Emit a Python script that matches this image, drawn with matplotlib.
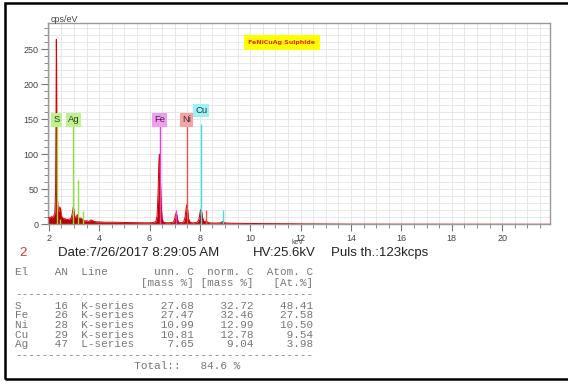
import matplotlib.pyplot as plt
from matplotlib.patches import Rectangle
from matplotlib.ticker import MultipleLocator

# EDX spectrum (energy in keV, intensity in cps/eV)
energy_kev = [1.97, 2.00, 2.05, 2.10, 2.15, 2.20, 2.24, 2.27, 2.29, 2.30, 2.31, 2.32,
              2.34, 2.37, 2.40, 2.44, 2.47, 2.50, 2.55, 2.60, 2.65, 2.70, 2.75, 2.80,
              2.85, 2.90, 2.94, 2.97, 2.99, 3.01, 3.04, 3.08, 3.12, 3.15, 3.18, 3.22,
              3.26, 3.30, 3.35, 3.40, 3.50, 3.60, 3.65, 3.70, 3.75, 3.80, 3.90, 4.00,
              4.20, 4.40, 4.60, 4.80, 5.00, 5.20, 5.40, 5.60, 5.80, 6.00, 6.15, 6.25,
              6.30, 6.34, 6.37, 6.39, 6.40, 6.41, 6.43, 6.46, 6.50, 6.55, 6.65, 6.80,
              6.95, 7.00, 7.03, 7.06, 7.09, 7.12, 7.17, 7.25, 7.35, 7.41, 7.45, 7.48,
              7.51, 7.55, 7.62, 7.75, 7.90, 7.97, 8.01, 8.04, 8.07, 8.11, 8.16, 8.22,
              8.26, 8.30, 8.40, 8.60, 8.80, 8.86, 8.90, 8.94, 9.00, 9.20, 9.50, 10.0,
              10.5, 11.0, 11.5, 12.0, 12.5, 13.0, 13.5, 14.0, 21.9]
cps = [9, 10, 9, 11, 10, 12, 16, 45, 170, 264, 230, 120,
       40, 20, 18, 25, 22, 12, 9, 8, 8, 7, 7, 7,
       8, 10, 17, 24, 22, 15, 10, 10, 13, 14, 10, 8,
       9, 8, 7, 5, 5, 4, 6, 6, 5, 4, 3.5, 3.5,
       3, 3, 3, 2.8, 2.6, 2.5, 2.4, 2.3, 2.2, 2.2, 2.5, 4,
       12, 45, 88, 100, 99, 95, 70, 30, 8, 3, 2.2, 2.2,
       3, 8, 14, 16, 13, 6, 2.5, 2.2, 3, 10, 22, 28,
       22, 8, 2.5, 2, 3, 8, 18, 21, 18, 9, 4, 4,
       5, 3, 2, 1.8, 2, 3, 4, 3, 2, 1.6, 1.4, 1.2,
       1.0, 0.9, 0.8, 0.6, 0.5, 0.4, 0.3, 0.2, 0]

# element line markers
line_kev = [2.31, 2.46, 2.98, 3.15, 3.35, 6.40, 7.06, 7.48, 8.26, 8.05, 8.90]
line_height = [145, 8, 145, 63, 19, 145, 21, 145, 21, 143, 21]
line_color = ['#8fe03c', '#8fe03c', '#8fe03c', '#8fe03c', '#8fe03c',
              '#e23ee2', '#e23ee2', '#f05050', '#f05050', '#3ee0ee', '#3ee0ee']

# element tags
tag_text = ['S', 'Ag', 'Fe', 'Ni', 'Cu']
tag_kev = [2.31, 2.98, 6.40, 7.48, 8.05]
tag_y = [149, 149, 149, 149, 162]
tag_face = ['#bdf28e', '#bdf28e', '#f49af4', '#f5a3a3', '#9cf2f8']

# quantification results
elements = ['S', 'Fe', 'Ni', 'Cu', 'Ag']
atomic_no = [16, 26, 28, 29, 47]
series = ['K-series', 'K-series', 'K-series', 'K-series', 'L-series']
unn_c = [27.68, 27.47, 10.99, 10.81, 7.65]
norm_c = [32.72, 32.46, 12.99, 12.78, 9.04]
atom_c = [48.41, 27.58, 10.50, 9.54, 3.98]
total = 84.6

W, H = 568, 384
fig = plt.figure(figsize=(W / 100, H / 100), dpi=100)


def fx(px):
    return px / W


def fy(py):
    return 1 - py / H


ax = fig.add_axes([fx(48), fy(224.3), fx(550) - fx(48), fy(23.3) - fy(224.3)])
ax.set_xlim(1.97, 21.9)
ax.set_ylim(0, 287)

ax.fill_between(energy_kev, cps, 0, color='#b80000', lw=0, zorder=2)
ax.plot(energy_kev, cps, color='#e00000', lw=0.7, zorder=3)

for e, h, c in zip(line_kev, line_height, line_color):
    ax.vlines(e, 0, h, color=c, lw=1.0, zorder=4)

for t, e, y, c in zip(tag_text, tag_kev, tag_y, tag_face):
    ax.text(e, y, t, fontsize=6.8, color='#333333', ha='center', va='center', zorder=5,
            family='Liberation Sans',
            bbox=dict(boxstyle='square,pad=0.22', fc=c, ec='none'))

ax.text(0.466, 0.905, 'FeNiCuAg Sulphide', transform=ax.transAxes, fontsize=4.5,
        fontweight='bold', color='#ff2000', ha='center', va='center', zorder=5,
        bbox=dict(boxstyle='square,pad=0.75', fc='#ffff00', ec='none'))

ax.xaxis.set_major_locator(MultipleLocator(2))
ax.xaxis.set_minor_locator(MultipleLocator(0.5))
ax.yaxis.set_major_locator(MultipleLocator(50))
ax.yaxis.set_minor_locator(MultipleLocator(10))
ax.grid(which='both', color='#e4e4e4', lw=0.6, zorder=0)
ax.set_axisbelow(True)
ax.tick_params(which='major', length=5, width=0.8, color='#777777',
               labelsize=6.5, labelcolor='#444444', pad=2)
ax.tick_params(which='minor', length=3, width=0.6, color='#777777')
for lbl in ax.get_xticklabels() + ax.get_yticklabels():
    lbl.set_family('Liberation Sans')
for s in ax.spines.values():
    s.set_color('#999999')
    s.set_linewidth(1.0)

fig.text(fx(51), fy(19), 'cps/eV', fontsize=6.5, color='#444444',
         family='Liberation Sans', va='center')
fig.text(fx(298), fy(242.5), 'keV', fontsize=5, color='#555555',
         family='Liberation Sans', ha='center', va='center')
fig.patches.append(Rectangle((fx(280), fy(248)), fx(40), fy(244.2) - fy(248),
                             transform=fig.transFigure, fc='white', ec='none', zorder=3))

# acquisition info line
fig.text(fx(19), fy(253), '2', fontsize=9.5, color='#e03030',
         family='Liberation Sans', va='center', zorder=4)
fig.text(fx(58), fy(253), 'Date:7/26/2017 8:29:05 AM', fontsize=9.5, color='#222222',
         family='Liberation Sans', va='center', zorder=4)
fig.text(fx(253), fy(253), 'HV:25.6kV', fontsize=9.5, color='#222222',
         family='Liberation Sans', va='center', zorder=4)
fig.text(fx(331), fy(253), 'Puls th.:123kcps', fontsize=9.5, color='#222222',
         family='Liberation Sans', va='center', zorder=4)

# results table
rows = ['El    AN  Line       unn. C  norm. C  Atom. C',
        '                   [mass %] [mass %]   [At.%]',
        '-' * 45]
for el, an, ln, u, n, a in zip(elements, atomic_no, series, unn_c, norm_c, atom_c):
    rows.append(f'{el:<4}{an:>4}  {ln:<8}{u:>9.2f}{n:>9.2f}{a:>9.2f}')
rows.append('-' * 45)
rows.append(f'{"Total::":>25}   {total:.1f} %')
row_y = [272, 283.5, 294, 306, 315.5, 325, 334.5, 344, 355, 366]
for txt, y in zip(rows, row_y):
    fig.text(fx(15), fy(y), txt, fontsize=7.9, color='#777777',
             family='Liberation Mono', va='center')

# outer frame
fig.patches.append(Rectangle((fx(5), fy(379)), 1.0, fy(3) - fy(379),
                             transform=fig.transFigure, fill=False, ec='black', lw=1.8))

fig.savefig('out.png', dpi=100)
